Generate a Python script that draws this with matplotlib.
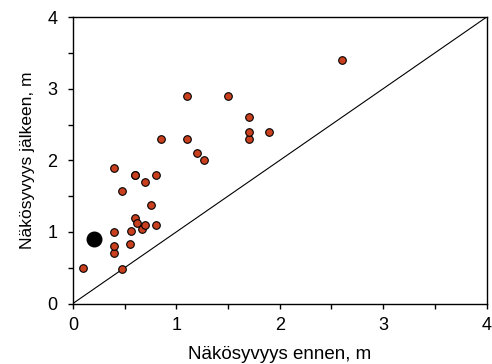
import matplotlib
matplotlib.use("Agg")
import matplotlib.pyplot as plt
from matplotlib.ticker import MultipleLocator

plt.rcParams['font.family'] = ['Liberation Sans', 'DejaVu Sans']

# visibility before / after (m)
before = [0.1, 0.4, 0.4, 0.4, 0.4, 0.48, 0.48, 0.55, 0.56, 0.6, 0.6, 0.62,
          0.67, 0.7, 0.7, 0.76, 0.8, 0.8, 0.85, 1.1, 1.1, 1.2, 1.27, 1.5,
          1.7, 1.7, 1.7, 1.9, 2.6, 0.6]
after = [0.5, 0.7, 0.8, 1.0, 1.9, 0.48, 1.57, 0.83, 1.02, 1.2, 1.8, 1.12,
         1.04, 1.1, 1.7, 1.37, 1.1, 1.8, 2.3, 2.3, 2.9, 2.1, 2.0, 2.9,
         2.3, 2.4, 2.6, 2.4, 3.4, 1.8]
highlight_x = [0.2]
highlight_y = [0.9]
diag = [0, 4]

fig = plt.figure(figsize=(4.92, 3.64), dpi=100)
ax = fig.add_axes([0.148, 0.166, 0.841, 0.787])

ax.plot(diag, diag, color='black', lw=0.8, zorder=1)
ax.scatter(before, after, s=30, color='#c8401e', edgecolor='black',
           linewidth=0.8, zorder=3)
ax.scatter(highlight_x, highlight_y, s=110, color='black', zorder=4)

ax.set_xlim(0, 4)
ax.set_ylim(0, 4)
ax.xaxis.set_major_locator(MultipleLocator(1))
ax.yaxis.set_major_locator(MultipleLocator(1))
ax.xaxis.set_minor_locator(MultipleLocator(0.5))
ax.yaxis.set_minor_locator(MultipleLocator(0.5))
ax.tick_params(which='both', direction='out', top=False, right=False,
               labelsize=13, width=1, length=3.6)
ax.tick_params(axis='x', which='major', pad=6)
ax.tick_params(axis='y', which='major', pad=7.5)
for s in ax.spines.values():
    s.set_linewidth(1)

ax.set_xlabel('Näkösyvyys ennen, m', fontsize=13.5, labelpad=9)
ax.set_ylabel('Näkösyvyys jälkeen, m', fontsize=12.5, labelpad=9)

fig.savefig('out.png', dpi=100)
